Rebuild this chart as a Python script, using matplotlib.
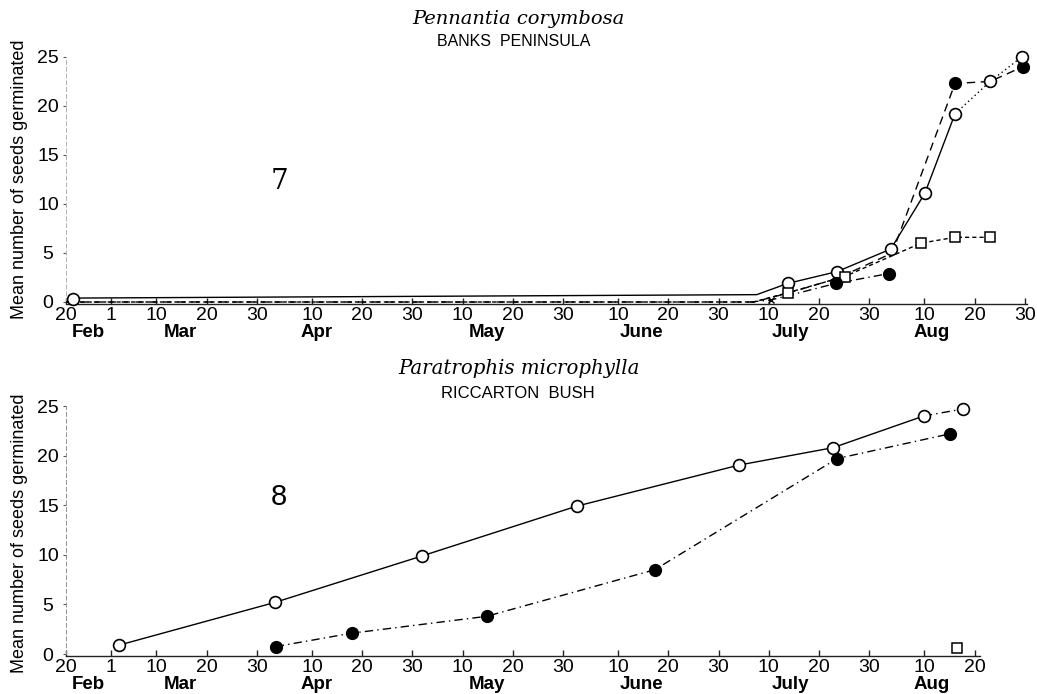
import matplotlib
matplotlib.use('Agg')
import matplotlib.pyplot as plt
from matplotlib import font_manager as fm

# ---------------- data (x = day of year, non-leap) ----------------
tick_days = [51, 60, 69, 79, 89, 100, 110, 120, 130, 140, 150, 161, 171, 181,
             191, 201, 211, 222, 232, 242]
tick_labels = ['20', '1', '10', '20', '30', '10', '20', '30', '10', '20', '30',
               '10', '20', '30', '10', '20', '30', '10', '20', '30']
month_names = ['Feb', 'Mar', 'Apr', 'May', 'June', 'July', 'Aug']
month_label_days = [55.4, 73.7, 101.0, 134.8, 165.7, 195.4, 223.4]
y_ticks = [0, 5, 10, 15, 20, 25]

# Fig 7 - Pennantia corymbosa, Banks Peninsula
p7_a_days = [52.4, 188.6, 194.8, 204.6, 215.3, 222.1, 228.1]
p7_a_vals = [0.4, 0.75, 1.9, 3.1, 5.4, 11.1, 19.2]
p7_a_marks = [None, None, 'o', 'o', 'o', 'o', 'o']

p7_b_days = [51, 188.0, 194.8, 204.6, 215.6, 228.1, 235.1, 241.6]
p7_b_vals = [0, 0, 0.9, 2.4, 5.0, 22.3, 22.5, 24.0]
p7_b_marks = [None, None, None, None, None, 'f', None, 'f']

p7_c_days = [51, 188.0, 194.8, 206.1, 221.3, 228.1, 235.1]
p7_c_vals = [0, 0, 0.95, 2.6, 6.0, 6.6, 6.6]
p7_c_marks = [None, None, 's', 's', 's', 's', 's']

p7_d_days = [187.3, 191.4, 204.4, 214.9]
p7_d_vals = [0, 0.2, 1.9, 2.9]
p7_d_marks = [None, 'x', 'f', 'f']

p7_e_days = [228.1, 235.1, 241.4]
p7_e_vals = [19.2, 22.5, 25.0]
p7_e_marks = [None, 'o', 'o']

p7_first_days = [52.4]
p7_first_vals = [0.35]

# Fig 8 - Paratrophis microphylla, Riccarton Bush
p8_a_days = [61.6, 92.6, 122.0, 152.7, 185.1, 203.8, 221.9]
p8_a_vals = [0.9, 5.2, 9.9, 14.9, 19.05, 20.8, 24.0]
p8_a_marks = ['o', 'o', 'o', 'o', 'o', 'o', 'o']

p8_a2_days = [221.9, 229.7]
p8_a2_vals = [24.0, 24.7]
p8_a2_marks = [None, 'o']

p8_b_days = [92.8, 107.9, 134.8, 168.3, 204.6, 227.1]
p8_b_vals = [0.75, 2.1, 3.8, 8.5, 19.7, 22.2]
p8_b_marks = ['f', 'f', 'f', 'f', 'f', 'f']

p8_c_days = [228.5]
p8_c_vals = [0.6]
p8_c_marks = ['s']

# ---------------- fonts ----------------
names = {f.name for f in fm.fontManager.ttflist}
SANS = 'Liberation Sans Narrow' if 'Liberation Sans Narrow' in names else 'Liberation Sans'
SANS_PLAIN = 'Liberation Sans'
SERIF = 'DejaVu Serif'

W, H = 1037, 694
fig = plt.figure(figsize=(W / 100, H / 100), dpi=100)

LONG = (0, (6, 4))
SHORT = (0, (3, 2.2))
DASHDOT = (0, (6, 3, 1, 3))
DOTTED = (0, (1, 2.2))

MSTYLE = {
    'o': dict(marker='o', mfc='white', mec='black', ms=8.5, mew=1.2),
    'f': dict(marker='o', mfc='black', mec='black', ms=8.5, mew=1.0),
    's': dict(marker='s', mfc='white', mec='black', ms=7.5, mew=1.1),
    'x': dict(marker='x', mfc='none', mec='black', ms=5, mew=1.0),
}


def series(ax, days, vals, marks, ls, lw=1.0):
    if len(days) > 1:
        ax.plot(days, vals, color='black', lw=lw, linestyle=ls,
                solid_capstyle='butt', dash_capstyle='butt', zorder=3, clip_on=False)
    for kind in set(m for m in marks if m):
        xs = [d for d, m in zip(days, marks) if m == kind]
        ys = [v for v, m in zip(vals, marks) if m == kind]
        ax.plot(xs, ys, linestyle='none', zorder=4, clip_on=False, **MSTYLE[kind])


def setup(ax, last_day, ylabel_center_px, left_spine_color):
    ax.set_xlim(51, 243)
    ax.set_ylim(-0.2, 26)
    for s in ['top', 'right']:
        ax.spines[s].set_visible(False)
    ax.spines['bottom'].set_bounds(51, last_day)
    ax.spines['bottom'].set_linewidth(1.0)
    ax.spines['bottom'].set_color('#222222')
    ax.spines['left'].set_bounds(0, 25)
    ax.spines['left'].set_color(left_spine_color)
    ax.spines['left'].set_linewidth(0.7)
    ax.spines['left'].set_linestyle((0, (4, 3)))
    days = [d for d in tick_days if d <= last_day]
    labs = tick_labels[:len(days)]
    ax.set_xticks(days)
    ax.set_xticklabels(labs, fontfamily=SANS, fontsize=14)
    ax.tick_params(axis='x', direction='in', length=4, width=1.0, pad=2,
                   color='#222222')
    ax.set_yticks(y_ticks)
    ax.set_yticklabels([str(v) for v in y_ticks], fontfamily=SANS, fontsize=14)
    ax.tick_params(axis='y', direction='out', length=2.5, width=0.8, pad=10.5,
                   color='#555555')
    for lab in ax.get_yticklabels():
        lab.set_horizontalalignment('center')
    for name, d in zip(month_names, month_label_days):
        ax.annotate(name, xy=(d, 0), xycoords='data', xytext=(0, -22),
                    textcoords='offset points', ha='center', va='center',
                    fontfamily=SANS, fontsize=13.5, fontweight='bold',
                    annotation_clip=False)
    fig.text(20 / W, 1 - ylabel_center_px / H, 'Mean number of seeds germinated',
             rotation=90, ha='center', va='center', fontfamily=SANS_PLAIN,
             fontsize=13)


# ---------------- top panel ----------------
ax1 = fig.add_axes([66 / W, 1 - 303.96 / H, 963.8 / W, 256.8 / H])
ax1.set_facecolor('none')
setup(ax1, 242.5, 179, '#b0b0b0')
series(ax1, p7_a_days, p7_a_vals, p7_a_marks, '-')
series(ax1, p7_b_days, p7_b_vals, p7_b_marks, LONG)
series(ax1, p7_c_days, p7_c_vals, p7_c_marks, SHORT)
series(ax1, p7_d_days, p7_d_vals, p7_d_marks, DASHDOT)
series(ax1, p7_e_days, p7_e_vals, p7_e_marks, DOTTED)
ax1.plot(p7_first_days, p7_first_vals, linestyle='none', zorder=4, clip_on=False,
         **MSTYLE['o'])
ax1.text(0.222, 0.475, '7', transform=ax1.transAxes, ha='center', va='center',
         fontfamily=SERIF, fontsize=20)

# ---------------- bottom panel ----------------
ax2 = fig.add_axes([66 / W, 1 - 656 / H, 963.8 / W, 259.9 / H])
ax2.set_facecolor('none')
setup(ax2, 233, 533, '#909090')
series(ax2, p8_a_days, p8_a_vals, p8_a_marks, '-')
series(ax2, p8_a2_days, p8_a2_vals, p8_a2_marks, DASHDOT)
series(ax2, p8_b_days, p8_b_vals, p8_b_marks, DASHDOT)
series(ax2, p8_c_days, p8_c_vals, p8_c_marks, '-')
ax2.text(0.221, 0.612, '8', transform=ax2.transAxes, ha='center', va='center',
         fontfamily=SANS_PLAIN, fontsize=21)

# ---------------- titles ----------------
fig.text(518 / W, 1 - 19 / H, 'Pennantia corymbosa', ha='center', va='center',
         fontfamily=SERIF, fontstyle='italic', fontsize=14)
fig.text(514 / W, 1 - 42 / H, 'BANKS  PENINSULA', ha='center', va='center',
         fontfamily=SANS_PLAIN, fontsize=11.5)
fig.text(519 / W, 1 - 369 / H, 'Paratrophis microphylla', ha='center', va='center',
         fontfamily=SERIF, fontstyle='italic', fontsize=14.2)
fig.text(518 / W, 1 - 393 / H, 'RICCARTON  BUSH', ha='center', va='center',
         fontfamily=SANS_PLAIN, fontsize=12)

fig.savefig('out.png', dpi=100, facecolor='white')
